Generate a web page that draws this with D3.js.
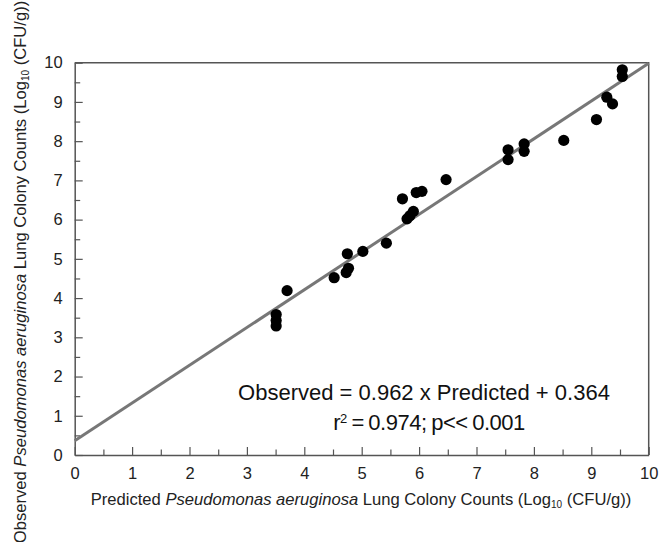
<!DOCTYPE html>
<html>
<head>
<meta charset="utf-8">
<script src="https://cdn.jsdelivr.net/npm/d3@7"></script>
<style>
  body { margin: 0; background: #fff; }
  svg { font-family: "Liberation Sans", Arial, sans-serif; }
</style>
</head>
<body>
<div id="chart"></div>
<script>
// values (log10 CFU/g)
const predicted = [3.51, 3.51, 3.51, 3.70, 4.52, 4.73, 4.77, 4.75, 5.02, 5.43,
                   5.71, 5.79, 5.84, 5.90, 5.95, 6.05, 6.47, 7.55, 7.55, 7.83,
                   7.83, 8.52, 9.09, 9.27, 9.37, 9.54, 9.54];
const observed  = [3.58, 3.43, 3.29, 4.19, 4.52, 4.65, 4.76, 5.13, 5.19, 5.40,
                   6.53, 6.02, 6.10, 6.21, 6.69, 6.72, 7.02, 7.78, 7.53, 7.93,
                   7.74, 8.02, 8.55, 9.12, 8.95, 9.82, 9.65];
const majorTicks = [0, 1, 2, 3, 4, 5, 6, 7, 8, 9, 10];
const minorTicks = [0.5, 1.5, 2.5, 3.5, 4.5, 5.5, 6.5, 7.5, 8.5, 9.5];
const slope = 0.962, intercept = 0.364;

const W = 669, H = 542;
const margin = { top: 62.7, right: 20.3, bottom: 87, left: 74.7 };
const width = W - margin.left - margin.right;
const height = H - margin.top - margin.bottom;

const svg = d3.select("#chart").append("svg")
    .attr("width", W)
    .attr("height", H);

const g = svg.append("g")
    .attr("transform", `translate(${margin.left},${margin.top})`);

const x = d3.scaleLinear().domain([0, 10]).range([0, width]);
const y = d3.scaleLinear().domain([0, 10]).range([height, 0]);

const axisColor = "#555";

// minor ticks (inside, short)
g.append("g")
    .attr("transform", `translate(0,${height})`)
    .call(d3.axisBottom(x).tickValues(minorTicks).tickSize(-5.5).tickFormat(""))
    .call(a => a.select(".domain").remove());
g.append("g")
    .call(d3.axisLeft(y).tickValues(minorTicks).tickSize(-5.5).tickFormat(""))
    .call(a => a.select(".domain").remove());

// major ticks + labels
const xAxis = g.append("g")
    .attr("transform", `translate(0,${height})`)
    .call(d3.axisBottom(x).tickValues(majorTicks).tickSizeInner(-8).tickSizeOuter(0).tickPadding(10).tickFormat(d3.format("d")));
const yAxis = g.append("g")
    .call(d3.axisLeft(y).tickValues(majorTicks).tickSizeInner(-8).tickSizeOuter(0).tickPadding(12).tickFormat(d3.format("d")));

[xAxis, yAxis].forEach(a => {
    a.select(".domain").attr("stroke", axisColor).attr("stroke-width", 1.5);
    a.selectAll("text")
        .style("font-size", "16.5px")
        .style("font-family", "'Liberation Sans', Arial, sans-serif")
        .attr("fill", "#222");
});
g.selectAll(".tick line").attr("stroke", axisColor).attr("stroke-width", 1.2);
xAxis.selectAll("text").attr("dy", "0.71em").attr("y", 12);

// top and right frame
g.append("path")
    .attr("d", `M0,0H${width}V${height}`)
    .attr("fill", "none")
    .attr("stroke", axisColor)
    .attr("stroke-width", 1.5);

// regression line
g.append("line")
    .attr("x1", x(0)).attr("y1", y(intercept))
    .attr("x2", x(10)).attr("y2", y(slope * 10 + intercept))
    .attr("stroke", "#777")
    .attr("stroke-width", 3);

// points
g.selectAll("circle.pt")
    .data(predicted.map((p, i) => ({ p, o: observed[i] })))
    .enter().append("circle")
    .attr("class", "pt")
    .attr("cx", d => x(d.p))
    .attr("cy", d => y(d.o))
    .attr("r", 5.6)
    .attr("fill", "#000");

// equation
const eq = g.append("text")
    .attr("text-anchor", "middle")
    .style("font-size", "22px")
    .attr("fill", "#111");
eq.append("tspan")
    .attr("x", 424 - margin.left).attr("y", 400 - margin.top)
    .text("Observed = 0.962 x Predicted + 0.364");
const l2 = eq.append("tspan")
    .attr("x", 429 - margin.left).attr("y", 430 - margin.top)
    .style("letter-spacing", "-0.5px")
    .style("word-spacing", "-1px");
l2.append("tspan").text("r");
l2.append("tspan").attr("baseline-shift", "super").style("font-size", "13px").text("2");
l2.append("tspan").text(" = 0.974; p<< 0.001");

// axis titles
const xt = svg.append("text")
    .attr("x", 361).attr("y", 505)
    .attr("text-anchor", "middle")
    .style("font-size", "16.6px")
    .attr("fill", "#222");
xt.append("tspan").text("Predicted ");
xt.append("tspan").style("font-style", "italic").text("Pseudomonas aeruginosa");
xt.append("tspan").text(" Lung Colony Counts (Log");
xt.append("tspan").attr("baseline-shift", "-30%").style("font-size", "10px").text("10");
xt.append("tspan").text(" (CFU/g))");

const yt = svg.append("text")
    .attr("transform", "translate(26,272) rotate(-90)")
    .attr("text-anchor", "middle")
    .style("font-size", "16.6px")
    .attr("fill", "#222");
yt.append("tspan").text("Observed ");
yt.append("tspan").style("font-style", "italic").text("Pseudomonas aeruginosa");
yt.append("tspan").text(" Lung Colony Counts (Log");
yt.append("tspan").attr("baseline-shift", "-30%").style("font-size", "10px").text("10");
yt.append("tspan").text(" (CFU/g))");
</script>
</body>
</html>
